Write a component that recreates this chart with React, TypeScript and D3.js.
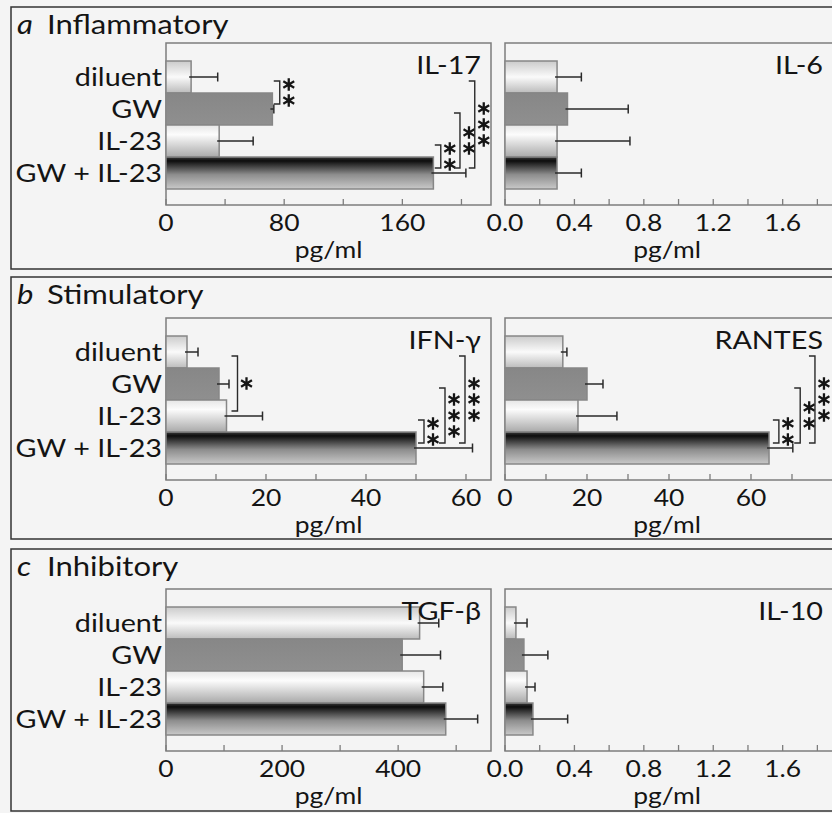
import React from 'react'
import * as d3 from 'd3'

// groups, top to bottom in every panel
const categories = ['diluent', 'GW', 'IL-23', 'GW + IL-23']
const fills = ['url(#gDil)', 'url(#gGw)', 'url(#gIl23)', 'url(#gBoth)']

const panelLetters = ['a', 'b', 'c']
const panelTitles = ['Inflammatory', 'Stimulatory', 'Inhibitory']

// pg/ml
const il17 = [17, 72, 36, 181]
const il17Err = [18, 1, 23, 22]
const il6 = [0.3, 0.36, 0.3, 0.3]
const il6Err = [0.14, 0.35, 0.42, 0.14]
const ifng = [4.2, 10.6, 12.1, 50]
const ifngErr = [2.2, 2.0, 7.2, 11.3]
const rantes = [14.1, 20, 17.8, 64.4]
const rantesErr = [1, 3.9, 9.5, 5.8]
const tgfb = [437, 407, 444, 482]
const tgfbErr = [33, 66, 33, 55]
const il10 = [0.063, 0.109, 0.127, 0.161]
const il10Err = [0.064, 0.138, 0.046, 0.2]

type Sig = { a: number; b: number; stars: number; at: number }
// brackets: group a vs group b, number of stars, x position in data units
const sigIL17: Sig[] = [
  { a: 0, b: 1, stars: 2, at: 77 },
  { a: 2, b: 3, stars: 2, at: 186 },
  { a: 1, b: 3, stars: 2, at: 199 },
  { a: 0, b: 3, stars: 3, at: 209 },
]
const sigIFNG: Sig[] = [
  { a: 0, b: 2, stars: 1, at: 14.3 },
  { a: 2, b: 3, stars: 2, at: 51.6 },
  { a: 1, b: 3, stars: 3, at: 55.8 },
  { a: 0, b: 3, stars: 3, at: 59.8 },
]
const sigRANTES: Sig[] = [
  { a: 2, b: 3, stars: 2, at: 66.8 },
  { a: 1, b: 3, stars: 2, at: 72 },
  { a: 0, b: 3, stars: 3, at: 75.6 },
]

const charts = [
  { name: 'IL-17', values: il17, errors: il17Err, max: 220, step: 40, every: 2, fmt: 'd', sig: sigIL17, row: 0, col: 0 },
  { name: 'IL-6', values: il6, errors: il6Err, max: 1.89, step: 0.2, every: 2, fmt: '.1f', sig: [], row: 0, col: 1 },
  { name: 'IFN-γ', values: ifng, errors: ifngErr, max: 65, step: 10, every: 2, fmt: 'd', sig: sigIFNG, row: 1, col: 0 },
  { name: 'RANTES', values: rantes, errors: rantesErr, max: 80, step: 10, every: 2, fmt: 'd', sig: sigRANTES, row: 1, col: 1 },
  { name: 'TGF-β', values: tgfb, errors: tgfbErr, max: 560, step: 100, every: 2, fmt: 'd', sig: [], row: 2, col: 0 },
  { name: 'IL-10', values: il10, errors: il10Err, max: 1.89, step: 0.2, every: 2, fmt: '.1f', sig: [], row: 2, col: 1 },
]

const W = 832
const H = 813
const colX = [[166, 491], [505, 833]]
const boxTop = [7, 277, 549]
const boxBottom = [269, 539, 811]
const frameTop = [43, 318, 589]
const frameH = 162
const SX = 1.15 // the figure is stretched sideways a little
const FONT = 'Lato, "Open Sans", sans-serif'

const Txt = ({ x, y, size, anchor = 'start', italic = false, children }: any) => (
  <text
    transform={`translate(${x},${y}) scale(${SX},1)`}
    fontSize={size}
    textAnchor={anchor}
    fontStyle={italic ? 'italic' : 'normal'}
    fill="#141414"
  >
    {children}
  </text>
)

const starPath = (cx: number, cy: number, r = 6.3) =>
  [90, 30, -30]
    .map((a) => {
      const dx = r * Math.cos((a * Math.PI) / 180)
      const dy = r * Math.sin((a * Math.PI) / 180)
      return `M${cx - dx},${cy - dy}L${cx + dx},${cy + dy}`
    })
    .join('')

const Chart = ({ c }: any) => {
  const [x0, x1] = colX[c.col]
  const top = frameTop[c.row]
  const bottom = top + frameH
  const x = d3.scaleLinear().domain([0, c.max]).range([x0, x1])
  const y = d3.scaleBand().domain(categories).range([top + 18, top + 146]).paddingInner(0)
  const bw = y.bandwidth()
  const ticks = d3.range(0, c.max + 1e-9, c.step)
  const fmt = d3.format(c.fmt)

  return (
    <g>
      <rect x={x0} y={top} width={x1 - x0} height={frameH} fill="none" stroke="#7c7c7c" strokeWidth={1.5} />
      {ticks.map((t, i) => (
        <line key={i} x1={x(t)} x2={x(t)} y1={bottom} y2={bottom - 6} stroke="#7c7c7c" strokeWidth={1.3} />
      ))}
      {ticks.map((t, i) =>
        i % c.every === 0 && x(t) < W - 8 ? (
          <Txt key={'l' + i} x={x(t)} y={bottom + 26} size={23} anchor="middle">
            {fmt(t)}
          </Txt>
        ) : null
      )}
      <Txt x={(x0 + x1) / 2 - (c.col === 1 ? 2 : 0)} y={bottom + 53} size={23} anchor="middle">
        pg/ml
      </Txt>
      {categories.map((cat, i) => (
        <rect
          key={cat}
          x={x(0)}
          y={y(cat)!}
          width={x(c.values[i]) - x(0)}
          height={bw}
          fill={fills[i]}
          stroke="#878787"
          strokeWidth={1.5}
        />
      ))}
      {categories.map((cat, i) => {
        const cy = y(cat)! + bw / 2
        const xe = x(c.values[i] + c.errors[i])
        return (
          <g key={'e' + cat} stroke="#2a2a2a" strokeWidth={1.5}>
            <line x1={x(c.values[i]) - 2} x2={xe} y1={cy} y2={cy} />
            <line x1={xe} x2={xe} y1={cy - 4.5} y2={cy + 4.5} />
          </g>
        )
      })}
      {c.sig.map((s: Sig, i: number) => {
        const t = y(categories[s.a])! + bw / 2 + 4
        const b = y(categories[s.b])! + bw / 2 - 5
        const bx = x(s.at)
        const mid = (t + b) / 2
        const stars = d3.range(s.stars).map((k) => mid + (k - (s.stars - 1) / 2) * 16)
        return (
          <g key={'s' + i}>
            <path d={`M${bx - 6},${t}H${bx}V${b}H${bx - 6}`} fill="none" stroke="#2a2a2a" strokeWidth={1.4} />
            {stars.map((sy, k) => (
              <path key={k} d={starPath(bx + 9, sy)} stroke="#151515" strokeWidth={2.3} />
            ))}
          </g>
        )
      })}
      <Txt x={x1 - 10} y={top + 31} size={25} anchor="end">
        {c.name}
      </Txt>
    </g>
  )
}

export default function App() {
  return (
    <svg
      width={W}
      height={H}
      style={{ position: 'absolute', left: 0, top: 0, background: '#f4f4f4', fontFamily: FONT }}
    >
      <defs>
        <linearGradient id="gDil" x1="0" y1="0" x2="0" y2="1">
          <stop offset="0" stopColor="#cbcbcb" />
          <stop offset="0.5" stopColor="#fafafa" />
          <stop offset="1" stopColor="#bbbbbb" />
        </linearGradient>
        <linearGradient id="gGw" x1="0" y1="0" x2="0" y2="1">
          <stop offset="0" stopColor="#878787" />
          <stop offset="1" stopColor="#8f8f8f" />
        </linearGradient>
        <linearGradient id="gIl23" x1="0" y1="0" x2="0" y2="1">
          <stop offset="0" stopColor="#e6e6e6" />
          <stop offset="0.3" stopColor="#fcfcfc" />
          <stop offset="1" stopColor="#a9a9a9" />
        </linearGradient>
        <linearGradient id="gBoth" x1="0" y1="0" x2="0" y2="1">
          <stop offset="0" stopColor="#3a3a3a" />
          <stop offset="0.12" stopColor="#0d0d0d" />
          <stop offset="0.55" stopColor="#8d8d8d" />
          <stop offset="1" stopColor="#c9c9c9" />
        </linearGradient>
      </defs>
      {boxTop.map((t, r) => (
        <g key={r}>
          <rect x={11} y={t} width={W + 20} height={boxBottom[r] - t} fill="none" stroke="#333" strokeWidth={1.5} />
          <Txt x={17} y={t + 27} size={27} italic>
            {panelLetters[r]}
          </Txt>
          <Txt x={47} y={t + 27} size={27}>
            {panelTitles[r]}
          </Txt>
          {categories.map((cat, i) => (
            <Txt key={cat} x={162} y={frameTop[r] + 18 + 32 * i + 25} size={25} anchor="end">
              {cat}
            </Txt>
          ))}
        </g>
      ))}
      {charts.map((c) => (
        <Chart key={c.name} c={c} />
      ))}
    </svg>
  )
}
